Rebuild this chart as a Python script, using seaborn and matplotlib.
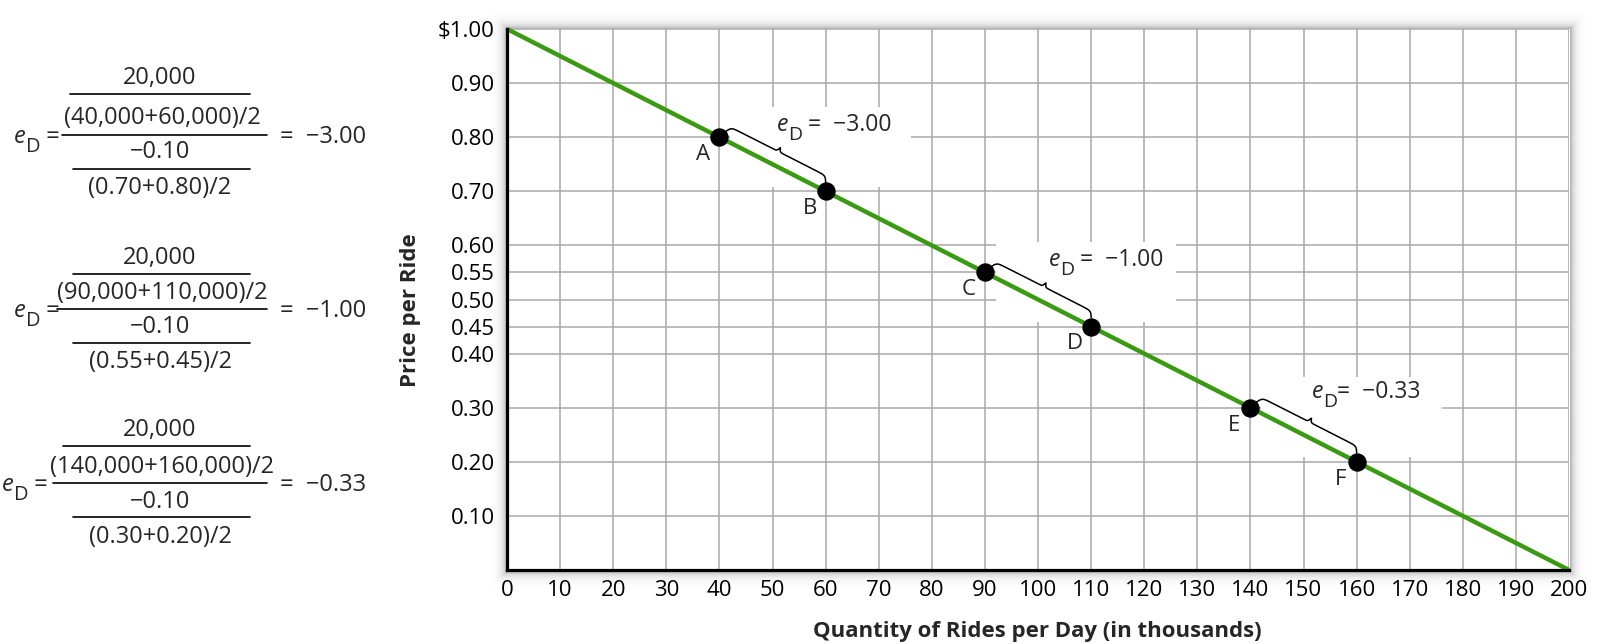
import numpy as np
import pandas as pd
import matplotlib
matplotlib.use("Agg")
import matplotlib.pyplot as plt
from matplotlib.patches import Rectangle
from matplotlib.lines import Line2D
import seaborn as sns

# ---------------- data ----------------
line_qty = [0, 40, 60, 90, 110, 140, 160, 200]          # thousands of rides
line_price = [1.00, 0.80, 0.70, 0.55, 0.45, 0.30, 0.20, 0.00]

point_labels = ["A", "B", "C", "D", "E", "F"]
point_qty = [40, 60, 90, 110, 140, 160]
point_price = [0.80, 0.70, 0.55, 0.45, 0.30, 0.20]

pairs = [(0, 1), (2, 3), (4, 5)]                         # indices of arc endpoints
elasticity = [-3.00, -1.00, -0.33]
qty_pairs_text = [(40, 60), (90, 110), (140, 160)]
price_pairs_text = [(0.70, 0.80), (0.55, 0.45), (0.30, 0.20)]
delta_qty = [20, 20, 20]
delta_price = [-0.10, -0.10, -0.10]

x_ticks = list(range(0, 201, 10))
y_ticks = [0.10, 0.20, 0.30, 0.40, 0.45, 0.50, 0.55, 0.60, 0.70, 0.80, 0.90, 1.00]
y_tick_labels = ["0.10", "0.20", "0.30", "0.40", "0.45", "0.50", "0.55", "0.60",
                 "0.70", "0.80", "0.90", "\\$1.00"]

# ---------------- style ----------------
sns.set_theme(style="white")
plt.rcParams["font.family"] = ["Open Sans", "DejaVu Sans"]
plt.rcParams["axes.unicode_minus"] = True

GREEN = "#3a9b12"
GRID = "#a8a8a8"
FS = 16
FSF = 17
W, H = 1600, 644
MINUS = "\u2212"

def fmt(v):
    return f"{v:.2f}".replace("-", MINUS)

fig = plt.figure(figsize=(16, 6.44), dpi=100)
fig.patch.set_facecolor("white")
ax_l, ax_r, ax_b, ax_t = 507, 1569, 570, 29   # pixel frame of the plot
ax = fig.add_axes([ax_l / W, (H - ax_b) / H, (ax_r - ax_l) / W, (ax_b - ax_t) / H])

# soft drop shadow around plot frame
for i in range(1, 17):
    a = 0.34 * np.exp(-i / 4.2)
    r = Rectangle(((ax_l - i) / W, (H - ax_b - i) / H), (ax_r - ax_l + 2 * i) / W,
                  (ax_b - ax_t + 2 * i) / H, transform=fig.transFigure, fill=False,
                  edgecolor=(0, 0, 0, a), lw=0.8, zorder=-5)
    fig.patches.append(r)

ax.set_xlim(0, 200)
ax.set_ylim(0, 1.0)
ax.set_facecolor("white")

# white label boxes (behind the line)
for k, (i, j) in enumerate(pairs):
    x0, y0 = point_qty[i] + 2, point_price[j] + 0.008
    x1, y1 = point_qty[i] + 36, point_price[i] + 0.056
    ax.add_patch(Rectangle((x0, y0), x1 - x0, y1 - y0, facecolor="white",
                           edgecolor="none", zorder=1.5))

# demand line
df_line = pd.DataFrame({"q": line_qty, "p": line_price})
sns.lineplot(data=df_line, x="q", y="p", ax=ax, color=GREEN, lw=3.2, zorder=3,
             clip_on=False, solid_capstyle="butt")

# points
df_pts = pd.DataFrame({"q": point_qty, "p": point_price, "lab": point_labels})
sns.scatterplot(data=df_pts, x="q", y="p", ax=ax, color="black", s=175,
                edgecolor="black", linewidth=0, zorder=5, clip_on=False)

# ticks / grid / spines
ax.set_xticks(x_ticks)
ax.set_yticks(y_ticks)
ax.set_xticklabels([str(v) for v in x_ticks], fontsize=FS)
ax.set_yticklabels(y_tick_labels, fontsize=FS)
ax.grid(True, color=GRID, lw=1.1, zorder=0)
ax.set_axisbelow(True)
ax.tick_params(axis="both", length=0, colors="black")
ax.tick_params(axis="x", pad=7)
ax.tick_params(axis="y", pad=9)
for s in ["top", "right"]:
    ax.spines[s].set_visible(False)
for s in ["left", "bottom"]:
    ax.spines[s].set_color("black")
    ax.spines[s].set_linewidth(2.3)
    ax.spines[s].set_zorder(6)

ax.set_xlabel("Quantity of Rides per Day (in thousands)", fontsize=FS, fontweight="bold", va="center")
ax.set_ylabel("Price per Ride", fontsize=FS, fontweight="bold", va="center")
ax.xaxis.set_label_coords(0.499, -0.113)
ax.yaxis.set_label_coords(-0.091, 0.48)

for lab, q, p in zip(point_labels, point_qty, point_price):
    ax.annotate(lab, (q, p), xytext=(-11.5, -12.5), textcoords="offset points",
                ha="center", va="center", fontsize=FS, zorder=6)

# braces
def brace(p_a, p_b):
    d = p_b - p_a
    L = np.linalg.norm(d)
    u = d / L
    n = np.array([-u[1], u[0]])
    start = p_a + u * 3
    end = p_b - u * 4
    length = np.linalg.norm(end - start)
    s = np.linspace(0, length, 500)
    half = length / 2
    sig = lambda z: 1 / (1 + np.exp(-z))
    body = np.where(s <= half, sig(0.6 * s), sig(0.6 * (length - s)))
    tip = np.where(s <= half, sig(1.2 * (s - half)), sig(1.2 * (half - s)))
    off = 8 + (body - 0.5) * 2 * 6 + tip * 2 * 4.5
    xy = start[None, :] + np.outer(s, u) + np.outer(off, n)
    return ax.transData.inverted().transform(xy)

pts = np.array([ax.transData.transform((q, p)) for q, p in zip(point_qty, point_price)])
for k, (i, j) in enumerate(pairs):
    b = brace(pts[i], pts[j])
    ax.plot(b[:, 0], b[:, 1], color="black", lw=1.1, zorder=4,
            solid_capstyle="round", solid_joinstyle="round")

# ------------- sequential text helper (pixel coords, y from top) -------------
fig.canvas.draw()
renderer = fig.canvas.get_renderer()

def seq_text(x_px, base_px, pieces, zorder=7):
    # dy > 0 moves a piece down (subscript)
    x = x_px
    for s, fs, style, dy in pieces:
        t = fig.text(x / W, (H - base_px - dy) / H, s, fontsize=fs, style=style,
                     ha="left", va="baseline", zorder=zorder)
        x += t.get_window_extent(renderer=renderer).width

def ed_pieces(fs, tail):
    return [("e", fs, "italic", 0), ("D", fs * 0.85, "normal", 9), (tail, fs, "normal", 0)]

# elasticity labels next to the braces (offsets in pixels from first point)
label_px_offsets = [(57, -6), (64, -6.5), (61, -10)]
label_eq = [" =  ", " =  ", "=  "]
for k, (i, j) in enumerate(pairs):
    dx, dy = label_px_offsets[k]
    px, py = pts[i]
    seq_text(px + dx, (H - py) + dy, ed_pieces(FS + 0.5, label_eq[k] + fmt(elasticity[k])))

# ---------------- formulas on the left ----------------
def ftext(x, y, s, ha="center"):
    fig.text(x / W, 1 - y / H, s, ha=ha, va="center", fontsize=FSF)

def fbar(x0, x1, y):
    fig.lines.append(Line2D([x0 / W, x1 / W], [1 - y / H, 1 - y / H],
                            transform=fig.transFigure, color="black", lw=1.2))

blocks = [
    dict(y=[78, 94, 118, 135, 152, 169, 188], mid=[62, 267], inner=[(70, 250), (73, 250)], ex=14),
    dict(y=[258, 274, 293, 309, 327, 343, 362], mid=[57, 267], inner=[(73, 250), (73, 250)], ex=14),
    dict(y=[430, 446, 467, 483, 502, 517, 537], mid=[53, 267], inner=[(63, 250), (73, 250)], ex=2),
]
for k, blk in enumerate(blocks):
    y = blk["y"]
    qa, qb = qty_pairs_text[k]
    pa, pb = price_pairs_text[k]
    ftext(160, y[0], f"{delta_qty[k] * 1000:,}")
    fbar(*blk["inner"][0], y[1])
    ftext(162, y[2], f"({qa * 1000:,}+{qb * 1000:,})/2")
    fbar(blk["mid"][0], blk["mid"][1], y[3])
    ftext(160, y[4], fmt(delta_price[k]))
    fbar(*blk["inner"][1], y[5])
    ftext(160, y[6], f"({pa:.2f}+{pb:.2f})/2")
    seq_text(blk["ex"], y[3] + 8, ed_pieces(FSF, " ="))
    seq_text(280, y[3] + 8, [("=  " + fmt(elasticity[k]), FSF, "normal", 0)])

fig.savefig("out.png", dpi=100, facecolor="white")
